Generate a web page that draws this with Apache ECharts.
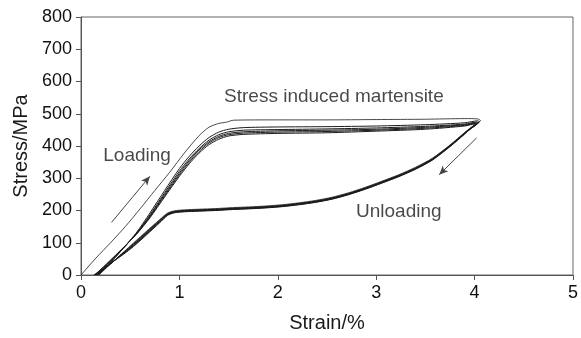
<!DOCTYPE html>
<html>
<head>
<meta charset="utf-8">
<script src="https://cdn.jsdelivr.net/npm/echarts@6/dist/echarts.min.js"></script>
<style>
  html, body { margin: 0; padding: 0; background: #fff; }
  #chart { width: 581px; height: 338px; }
</style>
</head>
<body>
<div id="chart"></div>
<script>
// stress-strain loops, [strain %, stress MPa]
var cycle1 = [
  [0,0],[0.15,52],[0.3,100],[0.45,150],[0.6,205],[0.75,262],[0.9,318],[1.05,378],[1.2,432],
  [1.3,458],[1.4,470],[1.48,474],[1.55,480],[2.0,481],[2.5,481],[3.0,482],[3.5,483],[3.9,485],
  [4.03,484],[4.06,479],[4.0,466],[3.9,442],[3.75,403],[3.57,362],[3.4,334],[3.23,311],[3.05,290],
  [2.89,272],[2.72,255],[2.55,241],[2.38,231],[2.22,224],[2.05,218],[1.88,214],[1.7,211],
  [1.54,209],[1.37,206],[1.2,204],[1.05,202],[0.95,199],[0.88,192],[0.8,172],[0.5,90],[0.18,0]
];
var cycle2 = [
  [0.18,0],[0.35,55],[0.56,130],[0.7,192],[0.85,262],[1.0,330],[1.1,368],[1.2,400],[1.3,426],
  [1.4,443],[1.5,452],[1.65,457],[2.0,459],[2.5,460],[3.0,462],[3.5,466],[3.9,472],[4.03,478],
  [4.05,475],[3.99,463],[3.9,441],[3.75,402],[3.57,360],[3.4,332],[3.23,309],[3.05,288],
  [2.89,270],[2.72,253],[2.55,239],[2.38,229],[2.22,222],[2.05,216],[1.88,212],[1.7,209],
  [1.54,207],[1.37,204],[1.2,202],[1.05,200],[0.95,197],[0.88,190],[0.8,170],[0.5,88],[0.17,0]
];
var cycle3 = [
  [0.17,0],[0.35,56],[0.56,128],[0.7,186],[0.85,255],[1.0,322],[1.1,360],[1.2,392],[1.3,418],
  [1.4,435],[1.5,444],[1.65,449],[2.0,451],[2.5,453],[3.0,456],[3.5,461],[3.9,468],[4.02,474],
  [4.04,472],[3.98,460],[3.9,440],[3.75,401],[3.57,359],[3.4,331],[3.23,308],[3.05,287],
  [2.89,269],[2.72,252],[2.55,238],[2.38,228],[2.22,221],[2.05,215],[1.88,211],[1.7,208],
  [1.54,206],[1.37,203],[1.2,201],[1.05,199],[0.95,196],[0.88,189],[0.8,168],[0.5,86],[0.16,0]
];
var cycle4 = [
  [0.16,0],[0.35,58],[0.56,127],[0.7,183],[0.85,250],[1.0,316],[1.1,355],[1.2,388],[1.3,413],
  [1.4,430],[1.5,439],[1.65,444],[2.0,447],[2.5,449],[3.0,452],[3.5,458],[3.9,466],[4.02,472],
  [4.03,470],[3.98,458],[3.9,439],[3.75,400],[3.57,358],[3.4,330],[3.23,307],[3.05,286],
  [2.89,268],[2.72,251],[2.55,237],[2.38,227],[2.22,220],[2.05,214],[1.88,210],[1.7,207],
  [1.54,205],[1.37,202],[1.2,200],[1.05,198],[0.95,195],[0.88,188],[0.8,166],[0.5,84],[0.15,0]
];
var cycle5 = [
  [0.15,0],[0.35,60],[0.56,126],[0.7,180],[0.85,246],[1.0,311],[1.1,350],[1.2,383],[1.3,409],
  [1.4,426],[1.5,435],[1.65,440],[2.0,443],[2.5,445],[3.0,449],[3.5,455],[3.9,464],[4.01,470],
  [4.02,468],[3.97,456],[3.9,438],[3.75,399],[3.57,357],[3.4,329],[3.23,306],[3.05,285],
  [2.89,267],[2.72,250],[2.55,236],[2.38,226],[2.22,219],[2.05,213],[1.88,209],[1.7,206],
  [1.54,204],[1.37,201],[1.2,199],[1.05,197],[0.95,194],[0.88,186],[0.8,164],[0.5,82],[0.14,0]
];
var cycle6 = [
  [0.14,0],[0.35,61],[0.56,125],[0.7,177],[0.85,242],[1.0,306],[1.1,345],[1.2,378],[1.3,404],
  [1.4,421],[1.5,431],[1.65,436],[2.0,439],[2.5,441],[3.0,446],[3.5,452],[3.9,462],[4.0,468],
  [4.01,466],[3.96,454],[3.9,437],[3.75,398],[3.57,356],[3.4,328],[3.23,305],[3.05,284],
  [2.89,266],[2.72,249],[2.55,235],[2.38,225],[2.22,218],[2.05,212],[1.88,208],[1.7,205],
  [1.54,203],[1.37,200],[1.2,198],[1.05,196],[0.95,193],[0.88,185],[0.8,162],[0.5,80],[0.13,0]
];
var cycles = [cycle1, cycle2, cycle3, cycle4, cycle5, cycle6];

var xTicks = [0, 1, 2, 3, 4, 5];
var yTicks = [0, 100, 200, 300, 400, 500, 600, 700, 800];

// annotations: text with its [strain, stress] centre, arrows as [from, to]
var notes = [
  ['Stress induced martensite', 2.57, 552],
  ['Loading', 0.57, 371],
  ['Unloading', 3.23, 196]
];
var loadingArrow = [[0.31, 163], [0.70, 306]];
var unloadingArrow = [[4.02, 425], [3.64, 311]];

var font = 'Liberation Sans, Arial, sans-serif';

var series = cycles.map(function (c, i) {
  return {
    type: 'line',
    data: c,
    smooth: 0.25,
    showSymbol: false,
    silent: true,
    lineStyle: { color: '#1c1c1c', width: i == 0 ? 0.8 : 1 }
  };
});

series.push({
  type: 'scatter',
  symbolSize: 0,
  silent: true,
  data: notes.map(function (n) { return { value: [n[1], n[2]], name: n[0] }; }),
  label: {
    show: true,
    position: 'inside',
    formatter: '{b}',
    color: '#1a1a1a',
    fontSize: 19,
    fontFamily: font
  },
  markLine: {
    silent: true,
    symbol: ['none', 'arrow'],
    symbolSize: [6, 9],
    label: { show: false },
    lineStyle: { color: '#444', width: 1, type: 'solid' },
    data: [
      [{ coord: loadingArrow[0] }, { coord: loadingArrow[1] }],
      [{ coord: unloadingArrow[0] }, { coord: unloadingArrow[1] }]
    ]
  }
});

var chart = echarts.init(document.getElementById('chart'));
chart.setOption({
  animation: false,
  grid: {
    left: 81, right: 6, top: 17, bottom: 60,
    show: true, borderColor: '#666', borderWidth: 1, backgroundColor: 'transparent'
  },
  xAxis: {
    type: 'value',
    min: xTicks[0], max: xTicks[xTicks.length - 1], interval: 1,
    name: 'Strain/%', nameLocation: 'middle', nameGap: 38,
    nameTextStyle: { fontSize: 20, color: '#1a1a1a', fontFamily: font },
    axisLine: { lineStyle: { color: '#555', width: 1 } },
    axisTick: { show: true, length: 5, lineStyle: { color: '#555' } },
    axisLabel: { fontSize: 18, color: '#111', margin: 9, fontFamily: font },
    splitLine: { show: false }
  },
  yAxis: {
    type: 'value',
    min: yTicks[0], max: yTicks[yTicks.length - 1], interval: 100,
    name: 'Stress/MPa', nameLocation: 'middle', nameGap: 50,
    nameTextStyle: { fontSize: 20, color: '#1a1a1a', fontFamily: font },
    axisLine: { show: true, lineStyle: { color: '#555', width: 1 } },
    axisTick: { show: true, length: 5, lineStyle: { color: '#555' } },
    axisLabel: { fontSize: 18, color: '#111', margin: 9, fontFamily: font },
    splitLine: { show: false }
  },
  series: series
});
</script>
</body>
</html>
